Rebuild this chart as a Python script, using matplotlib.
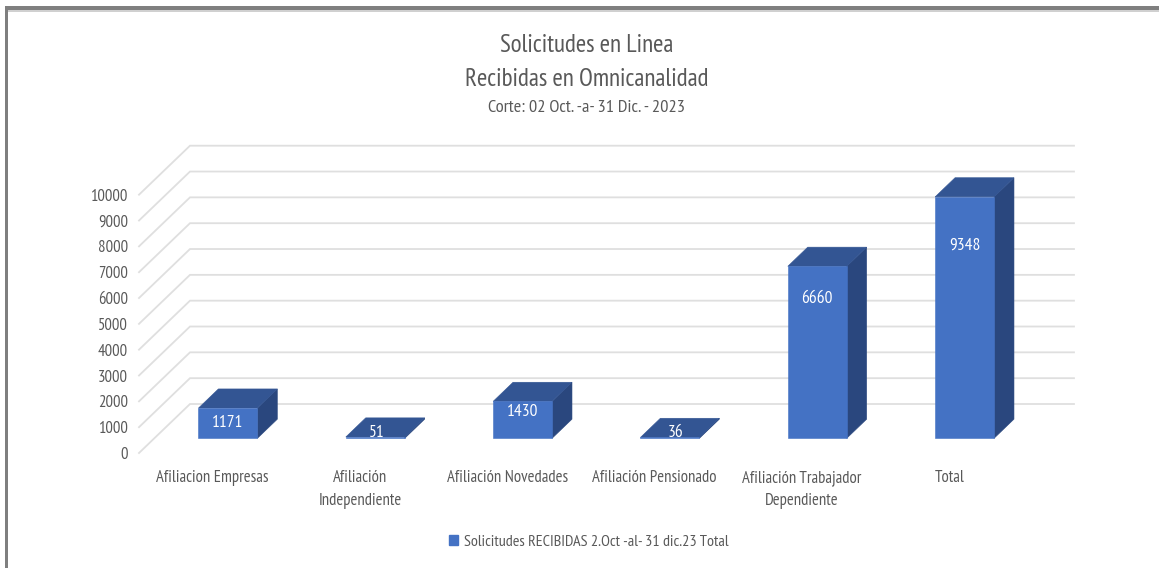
import matplotlib
matplotlib.use('Agg')
import matplotlib.pyplot as plt
from matplotlib.patches import Patch, Rectangle

plt.rcParams['font.family'] = ['PT Sans Narrow', 'Roboto Condensed', 'Carlito', 'DejaVu Sans']

categories = ['Afiliacion Empresas', 'Afiliación\nIndependiente', 'Afiliación Novedades',
              'Afiliación Pensionado', 'Afiliación Trabajador\nDependiente', 'Total']
values = [1171, 51, 1430, 36, 6660, 9348]
ticks = [0, 1000, 2000, 3000, 4000, 5000, 6000, 7000, 8000, 9000, 10000]
legend_label = 'Solicitudes RECIBIDAS 2.Oct -al- 31 dic.23 Total'

W, H = 1159, 568
FRONT = '#4472c4'
TOP = '#335593'
SIDE = '#2a477e'
GRID = '#dfdfdf'
TEXT = '#595959'

# oblique 3d look: depth runs from d=0 (front of floor) to d=1 (back wall)
DX = 51 / 147.33
DY = 1897.0
D0, D1 = 0.30, 0.69
BAR_W = 0.40


def shear(x, v, d):
    return x + d * DX, v + d * DY


fig = plt.figure(figsize=(W / 100, H / 100), dpi=100)
ax = fig.add_axes([139 / W, 1 - 453 / H, 935 / W, 307 / H])
ax.set_xlim(-0.5, -0.5 + 935 / 147.33)
ax.set_ylim(0, 307 / 25.83 * 1000)
ax.patch.set_alpha(0)
for s in ax.spines.values():
    s.set_visible(False)

# wall and floor gridlines
for t in ticks:
    bx, by = shear(-0.5, t, 1)
    ax.plot([-0.5, bx, 5.5 + DX], [t, by, by], color=GRID, lw=1.3, zorder=1,
            solid_joinstyle='miter', clip_on=False)

# bars
for i, v in enumerate(values):
    xl, xr = i - BAR_W / 2, i + BAR_W / 2
    fl = shear(xl, 0, D0)
    fr = shear(xr, 0, D0)
    tl = shear(xl, v, D0)
    tr = shear(xr, v, D0)
    bl = shear(xl, v, D1)
    br = shear(xr, v, D1)
    bb = shear(xr, 0, D1)
    ax.fill(*zip(fr, bb, br, tr), color=SIDE, lw=0.4, zorder=3)
    ax.fill(*zip(tl, tr, br, bl), color=TOP, lw=0.4, zorder=3)
    ax.fill(*zip(fl, fr, tr, tl), color=FRONT, lw=0.4, zorder=4)

# data labels, where the original chart left them
label_h = [580, 190, 1005, 190, 5400, 7450]
label_dx = [0, 0.01, 0, 0.04, 0, 0]
for i, v in enumerate(values):
    lx, ly = shear(i + label_dx[i], label_h[i], D0)
    ax.text(lx, ly, str(v), color='white', fontsize=12.5, ha='center', va='center', zorder=5)

ax.set_yticks(ticks)
ax.set_yticklabels([str(t) for t in ticks], fontsize=12, color=TEXT)
ax.set_xticks(range(len(categories)))
ax.set_xticklabels(categories, fontsize=12, color=TEXT, linespacing=1.55)
ax.tick_params(axis='y', length=0, pad=8)
ax.tick_params(axis='x', length=0, pad=12.5)

fig.text(586.5 / W, 1 - 45 / H, 'Solicitudes en Linea', fontsize=18, color=TEXT, ha='center', va='center')
fig.text(586.5 / W, 1 - 79 / H, 'Recibidas en Omnicanalidad', fontsize=18, color=TEXT, ha='center', va='center')
fig.text(586 / W, 1 - 108 / H, 'Corte: 02 Oct. -a- 31 Dic. - 2023', fontsize=13.2, color=TEXT, ha='center', va='center')

fig.legend(handles=[Patch(color=FRONT, label=legend_label)], loc='center',
           bbox_to_anchor=(589 / W, 1 - 542 / H), frameon=False, fontsize=11.6, labelcolor=TEXT,
           handlelength=0.55, handleheight=0.55, handletextpad=0.35)

# grey frame of the screenshot, top and left only
fig.add_artist(Rectangle((5 / W, 0), 3 / W, 1 - 6 / H, transform=fig.transFigure, color='#7f7f7f', lw=0))
fig.add_artist(Rectangle((5 / W, 1 - 10 / H), 1 - 5 / W, 4 / H, transform=fig.transFigure, color='#7f7f7f', lw=0))
fig.add_artist(Rectangle((8 / W, 1 - 11.5 / H), 1 - 8 / W, 1.5 / H, transform=fig.transFigure, color='#d0d0d0', lw=0))

fig.savefig('out.png', dpi=100)
